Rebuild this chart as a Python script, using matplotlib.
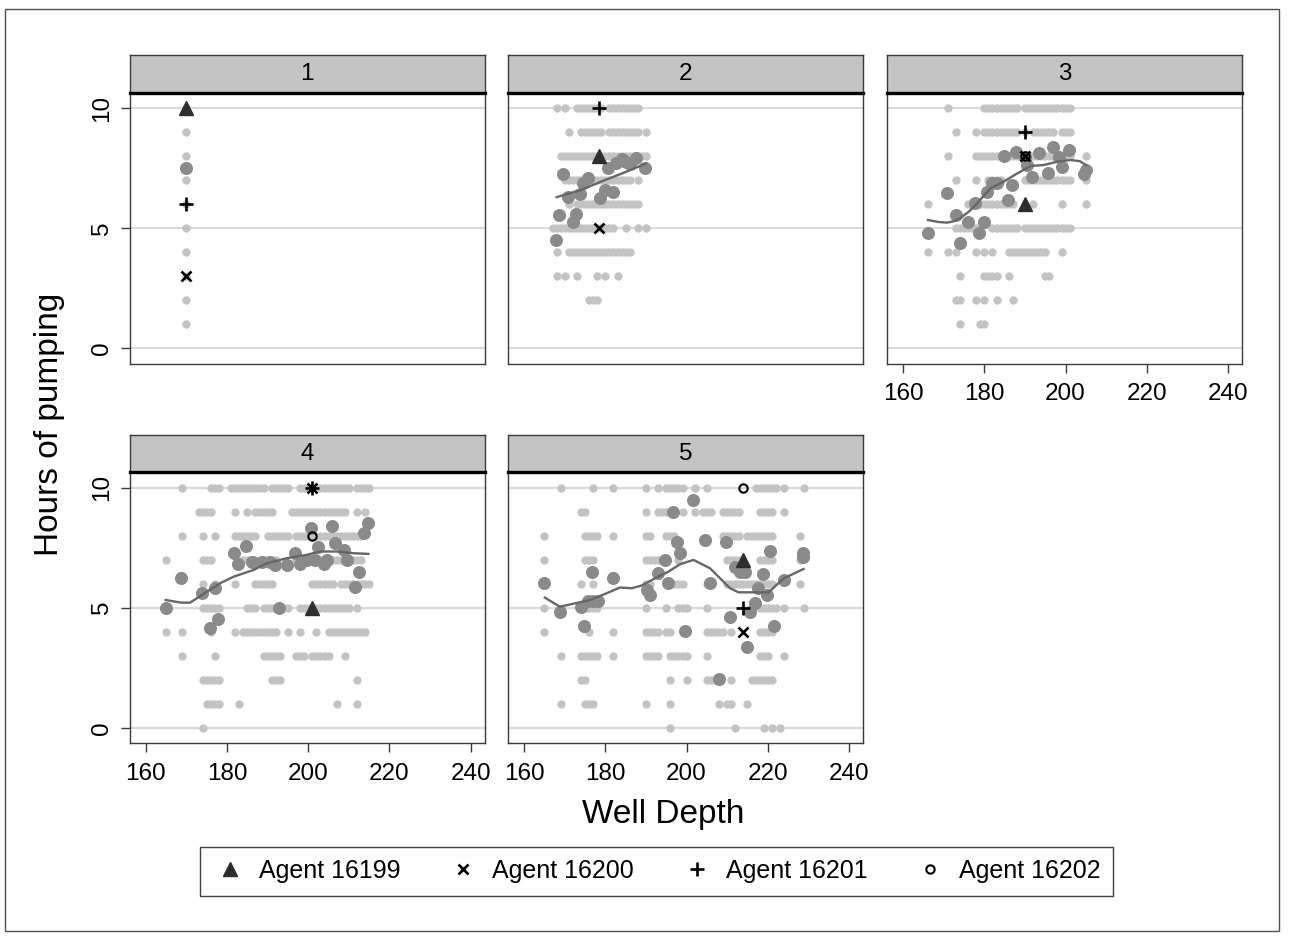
import matplotlib
matplotlib.use('Agg')
import matplotlib.pyplot as plt
from matplotlib.lines import Line2D
from matplotlib.patches import Rectangle

plt.rcParams['font.family'] = ['Liberation Sans', 'DejaVu Sans']

# hours of pumping reported by every well owner, grouped by hour -> well depths
pop_1 = {10: [170], 9: [170], 8: [170], 7: [170], 6: [170], 5: [170], 4: [170],
         3: [170], 2: [170], 1: [170]}
pop_2 = {
    10: [168, 170, 173, 174, 175, 176, 177, 178, 179, 181, 182, 183, 184, 185, 186, 187, 188],
    9: [171, 174, 175, 176, 177, 178, 179, 181, 182, 183, 184, 185, 186, 187, 188, 190],
    8: [169, 170, 171, 172, 173, 174, 175, 176, 177, 178, 179, 180, 181, 182, 183, 184,
        185, 186, 187, 188, 189, 190],
    7: [170, 171, 172, 173, 174, 175, 176, 177, 178, 179, 180, 181, 182, 183, 184, 185, 186, 188],
    6: [171, 173, 174, 175, 176, 177, 178, 179, 180, 181, 182, 183, 184, 185, 186, 187, 188],
    5: [167, 168, 169, 170, 171, 172, 173, 174, 175, 176, 177, 178, 179, 180, 181, 182,
        185, 188, 190],
    4: [168, 171, 172, 173, 174, 175, 176, 177, 178, 179, 180, 181, 182, 183, 184, 185, 186],
    3: [168, 170, 173, 178, 180, 183],
    2: [176, 177, 178],
}
pop_3 = {
    10: [171, 180, 181, 182, 183, 184, 185, 186, 187, 188, 190, 191, 192, 193, 194, 195,
         196, 197, 198, 199, 200, 201],
    9: [173, 178, 180, 181, 182, 183, 184, 185, 186, 187, 188, 190, 192, 193, 194, 195,
        196, 197, 199, 200, 201],
    8: [171, 178, 179, 180, 181, 182, 183, 184, 185, 186, 187, 188, 189, 190, 191, 192,
        193, 194, 195, 196, 197, 198, 199, 200, 201, 205],
    7: [173, 178, 181, 182, 183, 184, 190, 191, 192, 193, 194, 195, 196, 197, 198, 199,
        200, 201, 205],
    6: [166, 176, 177, 178, 179, 180, 181, 182, 183, 184, 185, 186, 187, 192, 199, 205],
    5: [173, 174, 175, 176, 177, 178, 179, 182, 183, 184, 185, 186, 187, 188, 190, 191,
        192, 193, 194, 195, 196, 197, 198, 199, 200, 201],
    4: [166, 171, 173, 178, 180, 182, 186, 187, 188, 189, 190, 191, 192, 193, 194, 195, 199],
    3: [174, 180, 181, 182, 183, 186, 195, 196],
    2: [173, 174, 178, 180, 183, 187],
    1: [174, 179, 180],
}
pop_4 = {
    10: [169, 176, 177, 178, 181, 182, 183, 184, 185, 186, 187, 188, 189, 191, 192, 193,
         194, 195, 198, 199, 200, 201, 203, 204, 205, 206, 207, 208, 209, 210, 212, 213,
         214, 215],
    9: [173, 174, 175, 176, 182, 185, 187, 188, 189, 190, 191, 196, 197, 198, 199, 200,
        201, 202, 203, 204, 205, 206, 207, 208, 209, 212, 214],
    8: [169, 174, 177, 182, 183, 184, 185, 186, 187, 190, 191, 192, 193, 194, 195, 197,
        198, 199, 200, 201, 202, 203, 204, 205, 206, 207, 208, 209, 210, 211, 212, 213],
    7: [165, 174, 175, 176, 184, 185, 186, 187, 188, 189, 190, 191, 192, 197, 198, 199,
        200, 201, 202, 203, 204, 205, 206, 207, 208, 209, 210, 211, 212, 213],
    6: [174, 177, 182, 187, 188, 189, 190, 191, 201, 202, 203, 204, 205, 206, 208, 209,
        210, 211, 212, 213, 214, 215],
    5: [165, 174, 175, 176, 177, 178, 185, 186, 187, 189, 190, 191, 192, 193, 194, 195,
        198, 199, 200, 201, 202, 203, 204, 205, 206, 207, 208, 209, 210, 212],
    4: [165, 169, 176, 182, 184, 185, 186, 187, 188, 189, 190, 191, 192, 195, 198, 202,
        205, 206, 207, 208, 209, 210, 211, 212, 213, 214],
    3: [169, 177, 189, 190, 191, 192, 193, 197, 198, 199, 201, 202, 203, 204, 205, 209],
    2: [174, 175, 176, 177, 178, 191, 192, 193, 212],
    1: [175, 176, 177, 178, 183, 207, 212],
    0: [174],
}
pop_5 = {
    10: [169, 177, 182, 190, 193, 195, 196, 197, 198, 199, 202, 205, 217, 218, 219, 220,
         221, 222, 224, 229],
    9: [174, 175, 190, 193, 194, 195, 196, 199, 202, 204, 205, 206, 209, 210, 211, 212,
        213, 218, 219, 220, 221, 224],
    8: [165, 175, 176, 177, 178, 182, 190, 191, 195, 196, 197, 209, 210, 211, 212, 213,
        215, 216, 217, 218, 219, 220, 221, 228],
    7: [165, 175, 176, 177, 190, 191, 192, 193, 194, 198, 210, 211, 212, 213, 218, 219,
        220, 221, 228],
    6: [174, 177, 190, 191, 196, 197, 198, 199, 205, 206, 210, 211, 212, 213, 214, 215,
        216, 217, 218, 219, 220, 221, 228],
    5: [165, 174, 175, 176, 177, 178, 190, 195, 198, 199, 200, 205, 218, 219, 220, 221,
        222, 224, 229],
    4: [165, 176, 182, 190, 191, 192, 193, 195, 196, 205, 206, 207, 208, 209, 211, 218,
        219, 220, 221],
    3: [169, 174, 175, 176, 177, 178, 182, 190, 191, 192, 193, 196, 197, 198, 199, 200,
        205, 218, 219, 220, 224],
    2: [174, 175, 196, 200, 205, 206, 207, 211, 216, 217, 218, 219, 220, 221],
    1: [169, 175, 176, 177, 190, 196, 208, 210, 211, 215],
    0: [196, 212, 219, 221, 223],
}

# average hours per well depth
mean_depth_1 = [170]
mean_hours_1 = [7.5]
mean_depth_2 = [167.9, 168.7, 169.6, 170.8, 172.0, 172.8, 173.7, 174.5, 175.7, 178.6,
                179.8, 180.6, 181.9, 182.7, 184.0, 185.2, 186.0, 187.6, 189.8]
mean_hours_2 = [4.52, 5.55, 7.26, 6.32, 5.28, 5.58, 6.42, 6.9, 7.08, 6.25,
                6.59, 7.53, 6.50, 7.71, 7.9, 7.78, 7.7, 7.94, 7.53]
mean_depth_3 = [166.1, 170.8, 173.1, 174.0, 176.0, 177.8, 178.6, 179.9, 180.7, 181.9,
                183.2, 184.8, 185.8, 186.8, 187.7, 189.9, 190.5, 191.8, 193.4, 195.6,
                197.0, 198.3, 199.2, 200.8, 204.5, 205.0]
mean_hours_3 = [4.79, 6.49, 5.55, 4.40, 5.25, 6.04, 4.82, 5.25, 6.53, 6.87,
                6.87, 8.01, 6.18, 6.81, 8.19, 7.99, 7.64, 7.15, 8.12, 7.29,
                8.40, 7.99, 7.57, 8.26, 7.26, 7.45]
mean_depth_4 = [164.9, 168.7, 173.8, 175.8, 177.1, 177.7, 181.7, 182.8, 184.6, 186.1,
                188.6, 190.6, 191.8, 192.7, 194.7, 196.8, 198.0, 199.6, 200.7, 201.7,
                202.5, 203.8, 204.6, 205.8, 206.6, 208.7, 209.5, 211.6, 212.4, 213.8, 214.8]
mean_hours_4 = [4.97, 6.25, 5.60, 4.14, 5.81, 4.53, 7.27, 6.81, 7.57, 6.89,
                6.89, 6.89, 6.78, 4.97, 6.78, 7.27, 6.81, 6.99, 8.31, 6.99,
                7.54, 6.81, 6.99, 8.42, 7.68, 7.40, 6.99, 5.88, 6.50, 8.10, 8.51]
mean_depth_5 = [164.9, 168.8, 174.1, 174.8, 175.8, 177.0, 178.2, 176.7, 181.9, 190.2,
                191.0, 192.9, 194.7, 195.5, 196.7, 197.6, 198.4, 199.6, 201.7, 204.6,
                205.8, 207.9, 209.8, 210.7, 212.0, 213.2, 214.4, 214.9, 215.7, 216.9,
                217.7, 218.8, 219.8, 220.6, 221.6, 223.9, 228.7, 228.7]
mean_hours_5 = [6.02, 4.81, 5.04, 4.25, 5.28, 5.28, 5.28, 6.50, 6.25, 5.73,
                5.53, 6.43, 6.99, 6.02, 9.0, 7.75, 7.27, 4.04, 9.49, 7.82,
                6.02, 2.02, 7.75, 4.63, 6.71, 6.50, 6.50, 3.38, 4.81, 5.18,
                5.81, 6.39, 5.53, 7.36, 4.25, 6.15, 7.27, 7.10]

# smoothed hours against depth
fit_depth_2 = [168, 174, 179, 185, 190]
fit_hours_2 = [6.3, 6.6, 6.95, 7.35, 7.7]
fit_depth_3 = [166.1, 168.5, 170.8, 172.5, 174.1, 176.2, 178.2, 181.5, 184.8, 188.1,
               191.4, 194.6, 198.0, 201.2, 203.5, 205.0]
fit_hours_3 = [5.35, 5.27, 5.24, 5.30, 5.43, 5.70, 6.04, 6.67, 6.95, 7.29,
               7.60, 7.64, 7.78, 7.85, 7.80, 7.64]
fit_depth_4 = [164.9, 168.7, 170.9, 173.8, 178.3, 181.6, 186.5, 189.8, 194.7, 199.6,
               202.9, 207.0, 211.1, 214.8]
fit_hours_4 = [5.32, 5.21, 5.21, 5.53, 6.02, 6.29, 6.57, 6.85, 7.06, 7.20,
               7.34, 7.34, 7.27, 7.24]
fit_depth_5 = [165.1, 168.8, 172.5, 176.2, 180.3, 183.6, 186.5, 188.9, 192.2, 195.5,
               198.4, 201.7, 205.8, 210.7, 212.8, 217.3, 220.2, 223.9, 228.8]
fit_hours_5 = [5.42, 5.04, 5.18, 5.32, 5.60, 5.84, 5.81, 5.92, 6.22, 6.50,
               6.81, 6.99, 6.64, 5.81, 5.64, 5.64, 5.64, 6.22, 6.61]

# the four tracked agents, one depth per period
agent_depth = [170, 178.5, 190, 201, 214]
agent_hours = {
    'Agent 16199': [10, 8, 6, 5, 7],
    'Agent 16200': [3, 5, 8, 10, 4],
    'Agent 16201': [6, 10, 9, 10, 5],
    'Agent 16202': [None, None, 8, 8, 10],
}
agent_style = {
    'Agent 16199': dict(marker='^', color='#2e2e2e', markersize=10.5, linestyle='none'),
    'Agent 16200': dict(marker='x', color='black', markersize=7, markeredgewidth=1.9,
                        linestyle='none'),
    'Agent 16201': dict(marker='+', color='black', markersize=9.5, markeredgewidth=1.9,
                        linestyle='none'),
    'Agent 16202': dict(marker='o', markerfacecolor='none', markeredgecolor='black',
                        markersize=6, markeredgewidth=1.5, linestyle='none'),
}

panels = ['1', '2', '3', '4', '5']
populations = [pop_1, pop_2, pop_3, pop_4, pop_5]
means = [(mean_depth_1, mean_hours_1), (mean_depth_2, mean_hours_2),
         (mean_depth_3, mean_hours_3), (mean_depth_4, mean_hours_4),
         (mean_depth_5, mean_hours_5)]
fits = [None, (fit_depth_2, fit_hours_2), (fit_depth_3, fit_hours_3),
        (fit_depth_4, fit_hours_4), (fit_depth_5, fit_hours_5)]

W, H = 1289, 939
COL_LEFT = [130, 508.3, 887.3]
ROW_TOP = [93, 472.3]
PANEL_W, PANEL_H, STRIP_H = 354.5, 271, 37.5
FS = 17.5


def px_axes(fig, left, top, width, height):
    return fig.add_axes([left / W, 1 - (top + height) / H, width / W, height / H])


fig = plt.figure(figsize=(W / 100, H / 100), dpi=100)
fig.patches.append(Rectangle((5 / W, 1 - 931 / H), 1274 / W, 922 / H, transform=fig.transFigure,
                             fill=False, edgecolor='#505050', linewidth=1))

for i, name in enumerate(panels):
    row, col = divmod(i, 3)
    ax = px_axes(fig, COL_LEFT[col], ROW_TOP[row], PANEL_W, PANEL_H)

    pop = populations[i]
    xs = [d for h in pop for d in pop[h]]
    ys = [h for h in pop for _ in pop[h]]
    ax.scatter(xs, ys, s=36, color='#c3c3c3', linewidths=0, zorder=2)
    ax.scatter(means[i][0], means[i][1], s=88, color='#8a8a8a', linewidths=0, zorder=3)
    if fits[i] is not None:
        ax.plot(fits[i][0], fits[i][1], color='#666666', linewidth=1.7, zorder=4)
    for agent, hours in agent_hours.items():
        if hours[i] is not None:
            ax.plot([agent_depth[i]], [hours[i]], zorder=5, **agent_style[agent])

    for g in (0, 5, 10):
        ax.axhline(g, color='#dadada', linewidth=1.6, zorder=1)
    ax.set_xlim(156.1, 243.4)
    ax.set_ylim(-0.65, 10.64)
    for sp in ax.spines.values():
        sp.set_color('#3a3a3a')
        sp.set_linewidth(1.0)

    ax.set_yticks([0, 5, 10])
    ax.set_xticks([160, 180, 200, 220, 240])
    ax.tick_params(length=6.5, width=1, color='#3a3a3a', labelsize=FS, pad=7.5)
    if col == 0:
        ax.tick_params(axis='y', labelrotation=90, pad=6)
        for lab in ax.get_yticklabels():
            lab.set_va('center')
    else:
        ax.tick_params(axis='y', left=False, labelleft=False)
    if i < 2:
        ax.tick_params(axis='x', bottom=False, labelbottom=False)

    strip = px_axes(fig, COL_LEFT[col], ROW_TOP[row] - STRIP_H, PANEL_W, STRIP_H)
    strip.set_facecolor('#c4c4c4')
    strip.set_xticks([])
    strip.set_yticks([])
    for sp in strip.spines.values():
        sp.set_color('#3a3a3a')
        sp.set_linewidth(1.0)
    strip.spines['bottom'].set_color('black')
    strip.spines['bottom'].set_linewidth(2.4)
    strip.text(0.5, 0.5, name, ha='center', va='center', fontsize=FS, transform=strip.transAxes)

fig.text(50 / W, 1 - 424 / H, 'Hours of pumping', rotation=90, ha='center', va='center',
         fontsize=24)
fig.text(663 / W, 1 - 815 / H, 'Well Depth', ha='center', va='center', fontsize=24)

handles = [Line2D([], [], **agent_style[a]) for a in agent_hours]
fig.legend(handles, list(agent_hours), loc='center', bbox_to_anchor=(656.5 / W, 1 - 871 / H),
           ncol=4, fontsize=18, frameon=True, fancybox=False, edgecolor='#404040',
           framealpha=1, handlelength=1.4, handletextpad=0.47, columnspacing=1.8,
           borderpad=0.5)

fig.savefig('out.png', dpi=100)
